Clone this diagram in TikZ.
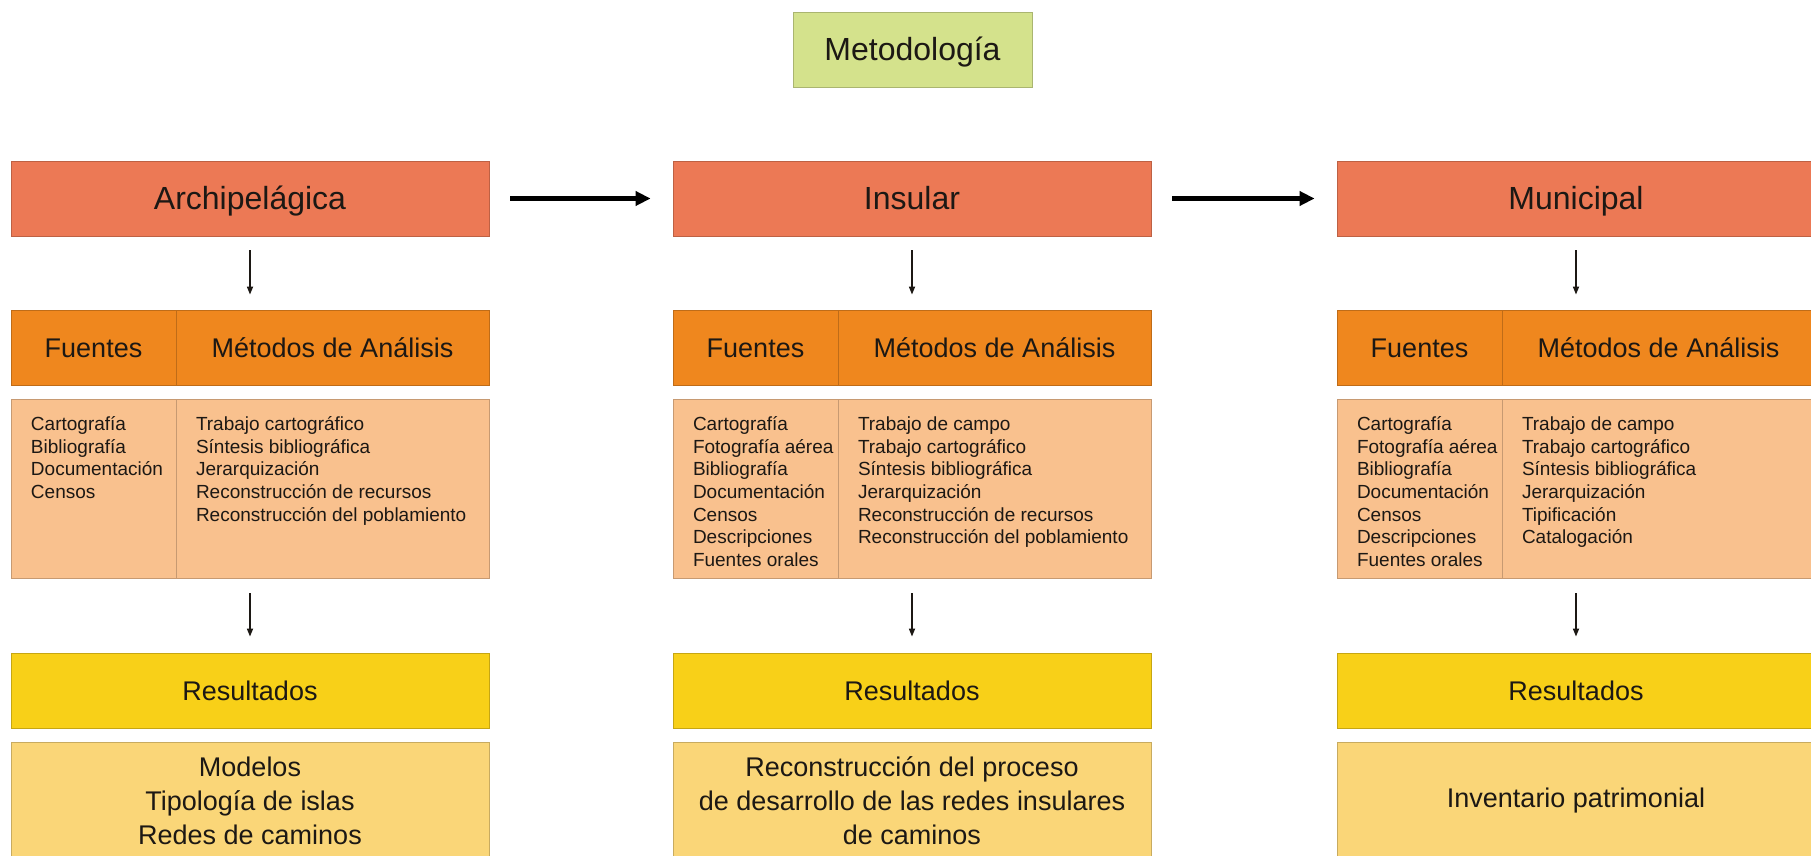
\documentclass[tikz,border=0pt]{standalone}
\usepackage{fontspec}
\setmainfont{Liberation Sans}
\usetikzlibrary{arrows.meta}
\definecolor{verde}{RGB}{212,226,140}
\definecolor{salmon}{RGB}{236,121,85}
\definecolor{naranja}{RGB}{239,135,30}
\definecolor{melocoton}{RGB}{249,193,142}
\definecolor{amarillo}{RGB}{248,208,24}
\definecolor{crema}{RGB}{250,214,120}
\definecolor{tinta}{RGB}{28,24,20}
\begin{document}
\begin{tikzpicture}[x=0.5pt,y=-0.5pt,
	caja/.style={draw=#1!80!black,fill=#1,line width=0.4pt,inner sep=0pt,text=tinta},
	grande/.style={font=\fontsize{16}{19}\selectfont,text height=13pt,text depth=2pt},
	media/.style={font=\fontsize{13.5}{16}\selectfont,text height=11pt,text depth=1.5pt},
	nivel/.style={caja=salmon,grande,minimum width=239pt,minimum height=37.5pt},
	fuen/.style={caja=naranja,media,minimum width=82.5pt,minimum height=37.5pt},
	meto/.style={caja=naranja,media,minimum width=156.5pt,minimum height=37.5pt},
	listf/.style={caja=melocoton,minimum width=82.5pt,minimum height=89.5pt},
	listm/.style={caja=melocoton,minimum width=156.5pt,minimum height=89.5pt},
	res/.style={caja=amarillo,media,minimum width=239pt,minimum height=37.5pt},
	sal/.style={caja=crema,minimum width=239pt,minimum height=59pt,align=center,font=\fontsize{13.5}{17}\selectfont},
	item/.style={anchor=west,inner sep=0pt,text height=7pt,text depth=2pt,text=tinta,font=\fontsize{9.5}{11.3}\selectfont},
	paso/.style={-{Triangle[length=7.5pt,width=7pt]},line width=2.5pt},
	baja/.style={-{Triangle[length=4pt,width=3pt]},line width=0.8pt,tinta}
	]
	\useasboundingbox (0,0) rectangle (1811,856);
	\node[caja=verde,grande,minimum width=119.5pt,minimum height=37.5pt] (met) at (912.5,49.5) {Metodología};
	
	\node[nivel] (arch) at (250,198.5) {Archipelágica};
	\node[nivel] (ins) at (912,198.5) {Insular};
	\node[nivel] (mun) at (1576,198.5) {Municipal};
	\draw[paso,shorten <=10.5pt,shorten >=11pt] (arch.east)--(ins.west);
	\draw[paso,shorten <=10.5pt,shorten >=11pt] (ins.east)--(mun.west);
	
	\node[fuen] (fuenA) at (93.5,347.5) {Fuentes};
	\node[meto] (metA) at (332.5,347.5) {Métodos de Análisis};
	\node[fuen] (fuenB) at (755.5,347.5) {Fuentes};
	\node[meto] (metB) at (994.5,347.5) {Métodos de Análisis};
	\node[fuen] (fuenC) at (1419.5,347.5) {Fuentes};
	\node[meto] (metC) at (1658.5,347.5) {Métodos de Análisis};
	
	\node[listf] (lfA) at (93.5,488.5) {};
	\node[listm] (lmA) at (332.5,488.5) {};
	\node[listf] (lfB) at (755.5,488.5) {};
	\node[listm] (lmB) at (994.5,488.5) {};
	\node[listf] (lfC) at (1419.5,488.5) {};
	\node[listm] (lmC) at (1658.5,488.5) {};
	\foreach \t [count=\i from 0] in {Cartografía,Bibliografía,Documentación,Censos}
		\node[item] (fA\i) at ([shift={(20,27+22.6*\i)}]lfA.north west) {\t};
	\foreach \t [count=\i from 0] in {Trabajo cartográfico,Síntesis bibliográfica,Jerarquización,Reconstrucción de recursos,Reconstrucción del poblamiento}
		\node[item] (mA\i) at ([shift={(20,27+22.6*\i)}]lmA.north west) {\t};
	\foreach \t [count=\i from 0] in {Cartografía,Fotografía aérea,Bibliografía,Documentación,Censos,Descripciones,Fuentes orales}{
		\node[item] (fB\i) at ([shift={(20,27+22.6*\i)}]lfB.north west) {\t};
		\node[item] (fC\i) at ([shift={(20,27+22.6*\i)}]lfC.north west) {\t};
	}
	\foreach \t [count=\i from 0] in {Trabajo de campo,Trabajo cartográfico,Síntesis bibliográfica,Jerarquización,Reconstrucción de recursos,Reconstrucción del poblamiento}
		\node[item] (mB\i) at ([shift={(20,27+22.6*\i)}]lmB.north west) {\t};
	\foreach \t [count=\i from 0] in {Trabajo de campo,Trabajo cartográfico,Síntesis bibliográfica,Jerarquización,Tipificación,Catalogación}
		\node[item] (mC\i) at ([shift={(20,27+22.6*\i)}]lmC.north west) {\t};
	
	\node[res] (resA) at (250,690.5) {Resultados};
	\node[res] (resB) at (912,690.5) {Resultados};
	\node[res] (resC) at (1576,690.5) {Resultados};
	\node[sal] (salA) at (250,801) {Modelos\\Tipología de islas\\Redes de caminos};
	\node[sal] (salB) at (912,801) {Reconstrucción del proceso\\de desarrollo de las redes insulares\\de caminos};
	\node[sal] (salC) at (1576,801) {Inventario patrimonial};
	
	\foreach \c/\f/\l/\r in {arch/fuenA/lfA/resA,ins/fuenB/lfB/resB,mun/fuenC/lfC/resC}{
		\draw[baja,shorten <=7pt,shorten >=7.5pt] (\c.south)--(\c.south |- \f.north);
		\draw[baja,shorten <=7.5pt,shorten >=8pt] (\c.south |- \l.south)--(\c.south |- \r.north);
	}
\end{tikzpicture}
\end{document}
